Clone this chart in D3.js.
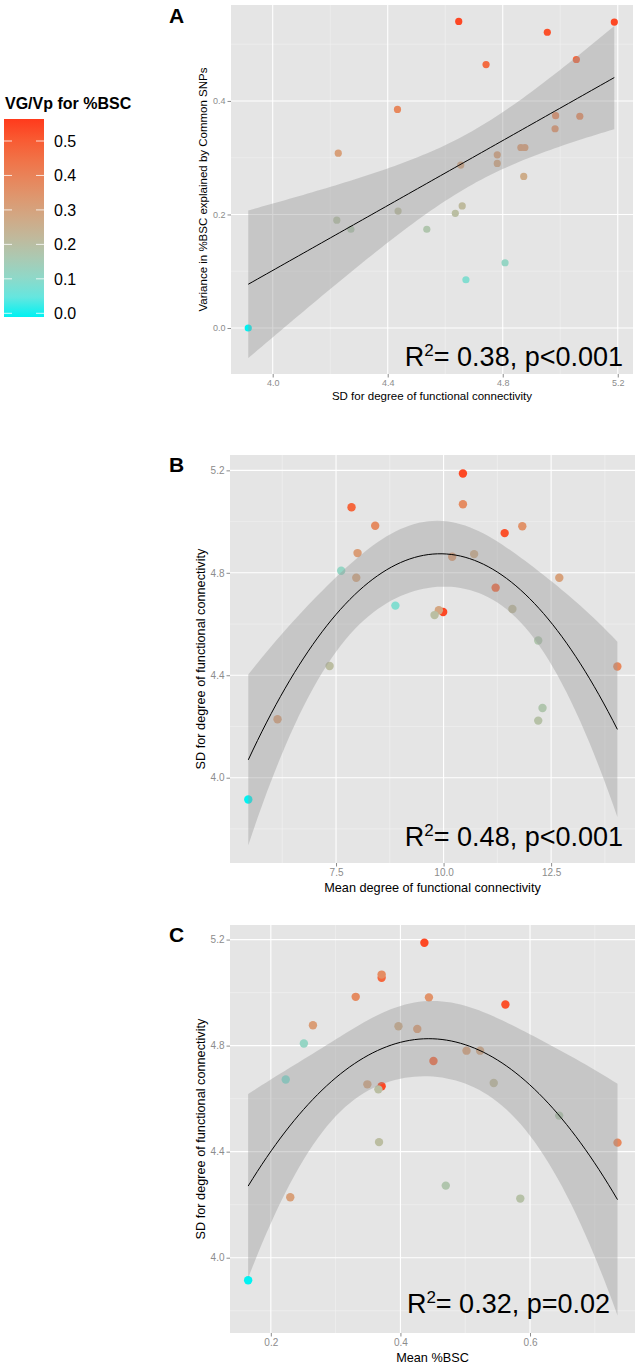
<!DOCTYPE html>
<html>
<head>
<meta charset="utf-8">
<script src="https://cdn.jsdelivr.net/npm/d3@7"></script>
<style>
  body { margin: 0; background: #fff; }
  text { font-family: "Liberation Sans", Arial, sans-serif; }
</style>
</head>
<body>
<div id="chart"></div>
<script>
// one value per subject, same order in every array
var sdDegree   = [3.915, 4.647, 4.955, 5.188, 4.742, 5.056, 4.434, 4.228, 4.984, 5.068, 4.982, 4.863, 4.877,
                  4.781, 4.781, 4.654, 4.873, 4.223, 4.272, 4.436, 4.536, 4.635, 4.659, 4.808, 4.672];
var vgBSC      = [0.000, 0.540, 0.521, 0.539, 0.464, 0.473, 0.385, 0.308, 0.374, 0.373, 0.351, 0.318, 0.318,
                  0.305, 0.290, 0.287, 0.267, 0.190, 0.174, 0.206, 0.174, 0.202, 0.215, 0.115, 0.085];
var meanDegree = [5.46, 9.99, 11.42, 10.45, 11.21, 7.86, 14.04, 6.14, 8.41, 10.45, 11.83, 10.20, 8.00,
                  12.69, 7.97, 9.89, 10.71, 12.20, 12.30, 7.35, 12.20, 9.79, 11.60, 7.62, 8.88];
var meanBSC    = [0.165, 0.371, 0.562, 0.437, 0.451, 0.371, 0.735, 0.230, 0.331, 0.371, 0.444, 0.426, 0.265,
                  0.502, 0.523, 0.349, 0.397, 0.585, 0.470, 0.367, 0.645, 0.366, 0.544, 0.251, 0.223];

var legendTicks = [0.0, 0.1, 0.2, 0.3, 0.4, 0.5];
var ticksAx = [4.0, 4.4, 4.8, 5.2];
var ticksAy = [0.0, 0.2, 0.4];
var ticksBx = [7.5, 10.0, 12.5];
var ticksBy = [4.0, 4.4, 4.8, 5.2];
var ticksCx = [0.2, 0.4, 0.6];
var ticksCy = [4.0, 4.4, 4.8, 5.2];

var svg = d3.select("#chart").append("svg")
  .attr("width", 641)
  .attr("height", 1367);

var colour = d3.scaleLinear()
  .domain([0, 0.56])
  .range(["#00f2f2", "#ff3a1c"])
  .interpolate(d3.interpolateLab)
  .clamp(true);


// ---- legend
svg.append("text")
  .attr("x", 5).attr("y", 109)
  .attr("font-size", 16).attr("font-weight", "bold")
  .text("VG/Vp for %BSC");

var legendY = d3.scaleLinear().domain([0, 0.5]).range([313.3, 141]);
var grad = svg.append("defs").append("linearGradient")
  .attr("id", "legendGrad")
  .attr("x1", 0).attr("y1", 1).attr("x2", 0).attr("y2", 0);
var barLo = legendY.invert(317), barHi = legendY.invert(119);
d3.range(11).forEach(function (i) {
  var v = barLo + (barHi - barLo) * i / 10;
  grad.append("stop").attr("offset", i / 10).attr("stop-color", colour(v));
});
svg.append("rect")
  .attr("x", 4).attr("y", legendY(barHi))
  .attr("width", 40).attr("height", legendY(barLo) - legendY(barHi))
  .attr("fill", "url(#legendGrad)");
var lt = svg.append("g").selectAll("g").data(legendTicks).enter().append("g");
lt.append("line").attr("x1", 4).attr("x2", 12)
  .attr("y1", function (d) { return legendY(d); }).attr("y2", function (d) { return legendY(d); })
  .attr("stroke", "#fff").attr("stroke-opacity", 0.8);
lt.append("line").attr("x1", 36).attr("x2", 44)
  .attr("y1", function (d) { return legendY(d); }).attr("y2", function (d) { return legendY(d); })
  .attr("stroke", "#fff").attr("stroke-opacity", 0.8);
lt.append("text")
  .attr("x", 54).attr("y", function (d) { return legendY(d) + 6; })
  .attr("font-size", 16)
  .text(function (d) { return d.toFixed(1); });


// ---- fitting (lm with polynomial terms, 95% band like geom_smooth)
function invert(m) {
  var n = m.length;
  var a = m.map(function (row, i) {
    return row.concat(d3.range(n).map(function (j) { return i === j ? 1 : 0; }));
  });
  for (var c = 0; c < n; c++) {
    var piv = c;
    for (var r = c + 1; r < n; r++) if (Math.abs(a[r][c]) > Math.abs(a[piv][c])) piv = r;
    var tmp = a[c]; a[c] = a[piv]; a[piv] = tmp;
    var pv = a[c][c];
    for (var k = 0; k < 2 * n; k++) a[c][k] /= pv;
    for (var r2 = 0; r2 < n; r2++) {
      if (r2 === c) continue;
      var f = a[r2][c];
      for (var k2 = 0; k2 < 2 * n; k2++) a[r2][k2] -= f * a[c][k2];
    }
  }
  return a.map(function (row) { return row.slice(n); });
}

var tCrit = { 22: 2.0739, 23: 2.0687 };

function polyFit(xs, ys, degree) {
  var p = degree + 1;
  var X = xs.map(function (x) { return d3.range(p).map(function (k) { return Math.pow(x, k); }); });
  var XtX = d3.range(p).map(function (i) {
    return d3.range(p).map(function (j) { return d3.sum(X, function (r) { return r[i] * r[j]; }); });
  });
  var inv = invert(XtX);
  var Xty = d3.range(p).map(function (i) { return d3.sum(X, function (r, k) { return r[i] * ys[k]; }); });
  var beta = inv.map(function (row) { return d3.sum(row, function (v, j) { return v * Xty[j]; }); });
  var dot = function (a, b) { return d3.sum(a, function (v, i) { return v * b[i]; }); };
  var sse = d3.sum(X, function (r, k) { return Math.pow(ys[k] - dot(r, beta), 2); });
  var df = xs.length - p;
  var s2 = sse / df;
  var t = tCrit[df];
  var ext = d3.extent(xs);
  return d3.range(81).map(function (i) {
    var x = ext[0] + (ext[1] - ext[0]) * i / 80;
    var row = d3.range(p).map(function (k) { return Math.pow(x, k); });
    var fit = dot(row, beta);
    var se = Math.sqrt(s2 * dot(row, inv.map(function (r) { return dot(r, row); })));
    return { x: x, fit: fit, lo: fit - t * se, hi: fit + t * se };
  });
}


// ---- panels
function minorTicks(ticks, domain) {
  var step = ticks[1] - ticks[0];
  var out = [];
  for (var i = -1; i < ticks.length; i++) {
    var v = ticks[0] + step * (i + 0.5);
    if (v > domain[0] && v < domain[1]) out.push(v);
  }
  return out;
}

function drawPanel(cfg) {
  var x = d3.scaleLinear().domain(cfg.xDomain).range([cfg.left, cfg.right]);
  var y = d3.scaleLinear().domain(cfg.yDomain).range([cfg.bottom, cfg.top]);
  var g = svg.append("g");

  g.append("rect")
    .attr("x", cfg.left).attr("y", cfg.top)
    .attr("width", cfg.right - cfg.left).attr("height", cfg.bottom - cfg.top)
    .attr("fill", "#e5e5e5");

  g.selectAll(".minx").data(minorTicks(cfg.xTicks, cfg.xDomain)).enter().append("line")
    .attr("x1", x).attr("x2", x).attr("y1", cfg.top).attr("y2", cfg.bottom)
    .attr("stroke", "#f2f2f2").attr("stroke-width", 0.6);
  g.selectAll(".miny").data(minorTicks(cfg.yTicks, cfg.yDomain)).enter().append("line")
    .attr("y1", y).attr("y2", y).attr("x1", cfg.left).attr("x2", cfg.right)
    .attr("stroke", "#f2f2f2").attr("stroke-width", 0.6);
  g.selectAll(".majx").data(cfg.xTicks).enter().append("line")
    .attr("x1", x).attr("x2", x).attr("y1", cfg.top).attr("y2", cfg.bottom)
    .attr("stroke", "#fff").attr("stroke-width", 1.1);
  g.selectAll(".majy").data(cfg.yTicks).enter().append("line")
    .attr("y1", y).attr("y2", y).attr("x1", cfg.left).attr("x2", cfg.right)
    .attr("stroke", "#fff").attr("stroke-width", 1.1);

  // axes
  var xAxis = d3.axisBottom(x).tickValues(cfg.xTicks).tickSize(3.5).tickPadding(2)
    .tickFormat(d3.format(".1f"));
  var yAxis = d3.axisLeft(y).tickValues(cfg.yTicks).tickSize(3.5).tickPadding(2)
    .tickFormat(d3.format(".1f"));
  var ax = g.append("g").attr("transform", "translate(0," + cfg.bottom + ")").call(xAxis);
  var ay = g.append("g").attr("transform", "translate(" + cfg.left + ",0)").call(yAxis);
  [ax, ay].forEach(function (a) {
    a.select(".domain").remove();
    a.selectAll("line").attr("stroke", "#8c8c8c");
    a.selectAll("text").attr("fill", "#8c8c8c").attr("font-size", cfg.tickSize)
      .attr("font-family", "Liberation Sans, Arial, sans-serif");
  });

  // points under the smoother
  g.selectAll("circle").data(cfg.xs).enter().append("circle")
    .attr("cx", function (d) { return x(d); })
    .attr("cy", function (d, i) { return y(cfg.ys[i]); })
    .attr("r", cfg.r)
    .attr("fill", function (d, i) { return colour(vgBSC[i]); });

  var fit = polyFit(cfg.xs, cfg.ys, cfg.degree);
  g.append("path").datum(fit)
    .attr("d", d3.area()
      .x(function (d) { return x(d.x); })
      .y0(function (d) { return y(d.lo); })
      .y1(function (d) { return y(d.hi); }))
    .attr("fill", "#999").attr("fill-opacity", 0.4);
  g.append("path").datum(fit)
    .attr("d", d3.line()
      .x(function (d) { return x(d.x); })
      .y(function (d) { return y(d.fit); }))
    .attr("fill", "none").attr("stroke", "#000").attr("stroke-width", 1);

  // annotation
  var ann = g.append("text")
    .attr("x", cfg.annX).attr("y", cfg.annY)
    .attr("text-anchor", "end").attr("font-size", 27);
  ann.append("tspan").text("R");
  ann.append("tspan").attr("font-size", 17).attr("dy", -10).text("2");
  ann.append("tspan").attr("dy", 10).text(cfg.annText);

  // titles
  g.append("text")
    .attr("x", (cfg.left + cfg.right) / 2).attr("y", cfg.bottom + cfg.xTitleOff)
    .attr("text-anchor", "middle").attr("font-size", cfg.titleSize)
    .text(cfg.xTitle);
  g.append("text")
    .attr("transform", "translate(" + cfg.yTitleX + "," + (cfg.top + cfg.bottom) / 2 + ") rotate(-90)")
    .attr("text-anchor", "middle").attr("font-size", cfg.titleSize)
    .text(cfg.yTitle);

  g.append("text")
    .attr("x", 169).attr("y", cfg.letterY)
    .attr("font-size", 21).attr("font-weight", "bold")
    .text(cfg.letter);
}

drawPanel({
  letter: "A", letterY: 23,
  left: 231, right: 633, top: 5, bottom: 374,
  xDomain: [3.855, 5.253], yDomain: [-0.081, 0.569],
  xTicks: ticksAx, yTicks: ticksAy,
  xs: sdDegree, ys: vgBSC, degree: 1, r: 3.6,
  tickSize: 9, titleSize: 11.5, xTitleOff: 26, yTitleX: 207,
  xTitle: "SD for degree of functional connectivity",
  yTitle: "Variance in %BSC explained by Common SNPs",
  annX: 623, annY: 366, annText: "= 0.38, p<0.001"
});

drawPanel({
  letter: "B", letterY: 472,
  left: 230, right: 635, top: 455, bottom: 863,
  xDomain: [5.035, 14.45], yDomain: [3.667, 5.26],
  xTicks: ticksBx, yTicks: ticksBy,
  xs: meanDegree, ys: sdDegree, degree: 2, r: 4.2,
  tickSize: 10, titleSize: 12.7, xTitleOff: 29, yTitleX: 205,
  xTitle: "Mean degree of functional connectivity",
  yTitle: "SD for degree of functional connectivity",
  annX: 623, annY: 846, annText: "= 0.48, p<0.001"
});

drawPanel({
  letter: "C", letterY: 942,
  left: 230, right: 635, top: 925, bottom: 1333,
  xDomain: [0.137, 0.762], yDomain: [3.716, 5.255],
  xTicks: ticksCx, yTicks: ticksCy,
  xs: meanBSC, ys: sdDegree, degree: 2, r: 4.2,
  tickSize: 10, titleSize: 12.7, xTitleOff: 29, yTitleX: 205,
  xTitle: "Mean %BSC",
  yTitle: "SD for degree of functional connectivity",
  annX: 610, annY: 1313, annText: "= 0.32, p=0.02"
});
</script>
</body>
</html>
